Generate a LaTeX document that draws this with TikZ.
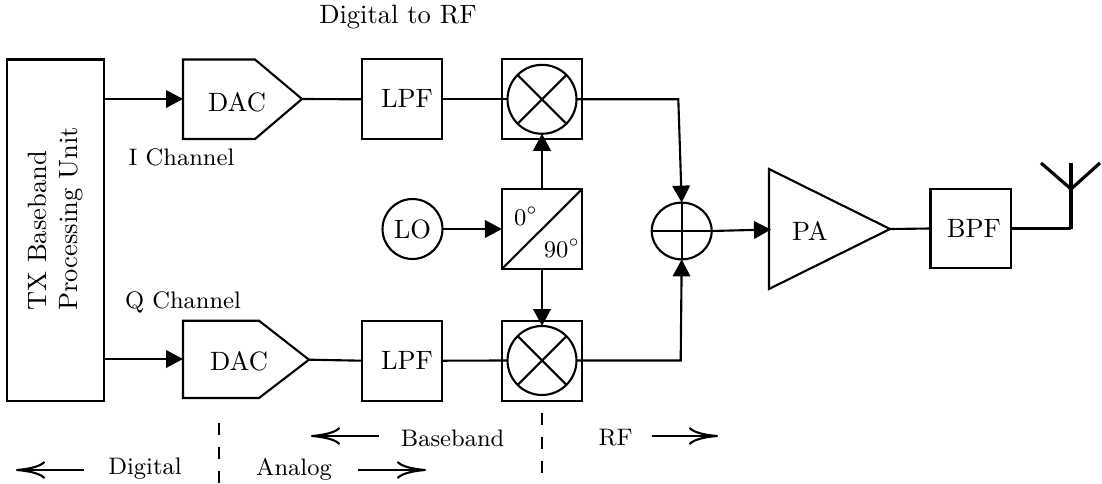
\documentclass[tikz,border=0pt]{standalone}
\usetikzlibrary{arrows.meta,shapes.geometric}
\tikzset{
  blockbox/.style={draw,minimum width=30.2pt,minimum height=30.1pt,inner sep=0pt,outer sep=0pt},
  ringnode/.style={draw,circle,inner sep=0pt,outer sep=0pt},
  plain/.style={inner sep=0pt,outer sep=0pt},
  note/.style={inner sep=0pt,outer sep=0pt,anchor=base,font=\small},
  sig/.style={-{Triangle[length=6.4pt,width=6.6pt]}},
  wire/.style={},
  span/.style={-{Computer Modern Rightarrow[length=11pt,width=6.6pt]}},
  cut/.style={dash pattern=on 4.5pt off 4.5pt},
}
\begin{document}
\begin{tikzpicture}[x=0.377pt,y=-0.377pt,line width=0.8pt,line join=miter]
\useasboundingbox (0,0) rectangle (1102,483);
% blocks
\node[blockbox,rotate=90,align=left,minimum width=128.6pt,minimum height=36.6pt] (tx) at (55.5,230)
  {\hspace*{8.3pt}TX Baseband\\\hspace*{8.3pt}Processing Unit};
\coordinate (d1nw) at (183,59.5); \coordinate (d1ne) at (255,59.5); \coordinate (d1tip) at (302,99);
\coordinate (d1se) at (255,139); \coordinate (d1sw) at (183,139); \coordinate (d1w) at (183,99);
\draw (d1nw) -- (d1ne) -- (d1tip) -- (d1se) -- (d1sw) -- cycle;
\node[plain] (dac1) at (237,102) {DAC};
\coordinate (d2nw) at (183,320.7); \coordinate (d2ne) at (259,320.7); \coordinate (d2tip) at (309,359.7);
\coordinate (d2se) at (259,398); \coordinate (d2sw) at (183,398); \coordinate (d2w) at (183,359);
\draw (d2nw) -- (d2ne) -- (d2tip) -- (d2se) -- (d2sw) -- cycle;
\node[plain] (dac2) at (239,361) {DAC};
\node[blockbox] (lpf1) at (402,99.3) {\hspace*{3.8pt}\raisebox{0.5pt}{LPF}};
\node[blockbox] (lpf2) at (402,360.7) {\hspace*{3.8pt}LPF};
\node[blockbox] (mixbox1) at (542,99.3) {};
\node[blockbox] (mixbox2) at (542,360.7) {};
\node[ringnode,minimum size=26pt] (mix1) at (542,99.3) {};
\node[ringnode,minimum size=26pt] (mix2) at (542,360.5) {};
\draw (mix1.north west) -- (mix1.south east) (mix1.north east) -- (mix1.south west);
\draw (mix2.north west) -- (mix2.south east) (mix2.north east) -- (mix2.south west);
\node[blockbox] (split) at (542,229) {};
\draw (split.south west) -- (split.north east);
\node[note] (deg0) at (526,225) {$0^\circ$};
\node[note] (deg90) at (562,257) {$90^\circ$};
\node[ringnode,minimum size=22.6pt] (lo) at (412.5,229) {LO};
\node[draw,ellipse,inner sep=0pt,outer sep=0pt,minimum width=22.6pt,minimum height=21.4pt] (add) at (681.7,231) {};
\draw (add.north) -- (add.south) (add.west) -- (add.east);
\coordinate (patop) at (769,169); \coordinate (pabot) at (769,289); \coordinate (patip) at (890,229);
\coordinate (pain) at (771,229.5);
\draw (patop) -- (patip) -- (pabot) -- cycle;
\node[plain] (pa) at (810,231) {PA};
\node[blockbox] (bpf) at (970.5,228.5) {\hspace*{2.6pt}\raisebox{-1pt}{BPF}};
% connectors
\draw[sig] (tx.south |- d1w) -- (d1w);
\draw[sig] (tx.south |- d2w) -- (d2w);
\draw[wire] (d1tip) -- (lpf1.west);
\draw[wire] (d2tip) -- (lpf2.west);
\draw[wire] (lpf1.east) -- (mix1.west);
\draw[wire] (lpf2.east) -- (mix2.west);
\draw[sig] (lo.east) -- (split.west);
\draw[sig] (split.north) -- (mix1.south);
\draw[sig] (split.south) -- (mix2.north);
\coordinate (bend1) at (678.3,99.3);
\coordinate (bend2) at (680.7,360.5);
\draw[sig] (mix1.east) -- (bend1) -- (add.north);
\draw[sig] (mix2.east) -- (bend2) -- (add.south);
\draw[sig] (add.east) -- (pain);
\draw[wire] (patip) -- (bpf.west);
% antenna
\coordinate (antbase) at (1071,228.5);
\coordinate (antmid) at (1071,189);
\coordinate (anttop) at (1071,163);
\coordinate (antl) at (1041,163);
\coordinate (antr) at (1100,163);
\draw[wire] (bpf.east) -- (antbase);
\draw[line width=1.2pt,line cap=butt] (antbase) -- (anttop);
\draw[line width=1.2pt] (antl) -- (antmid) -- (antr);
% labels
\node[plain,anchor=base] (title) at (398,23) {Digital to RF};
\node[note] (ich) at (181.5,165) {I Channel};
\node[note] (qch) at (183,308) {Q Channel};
\node[note] (digital) at (145,474) {Digital};
\node[note] (analog) at (294,475) {Analog};
\node[note] (baseband) at (452.6,446) {Baseband};
\node[note] (rf) at (615.7,445) {RF};
% dashed dividers
\coordinate (cut1a) at (219,423); \coordinate (cut1b) at (219,483);
\coordinate (cut2a) at (542,413); \coordinate (cut2b) at (542,473);
\draw[cut] (cut1a) -- (cut1b);
\draw[cut] (cut2a) -- (cut2b);
% domain arrows
\coordinate (a1s) at (83.6,470); \coordinate (a1e) at (16,470);
\coordinate (a2s) at (358,470); \coordinate (a2e) at (426,470);
\coordinate (a3s) at (379,436); \coordinate (a3e) at (311,436);
\coordinate (a4s) at (651.7,436); \coordinate (a4e) at (718,436);
\draw[span] (a1s) -- (a1e);
\draw[span] (a2s) -- (a2e);
\draw[span] (a3s) -- (a3e);
\draw[span] (a4s) -- (a4e);
\end{tikzpicture}
\end{document}
